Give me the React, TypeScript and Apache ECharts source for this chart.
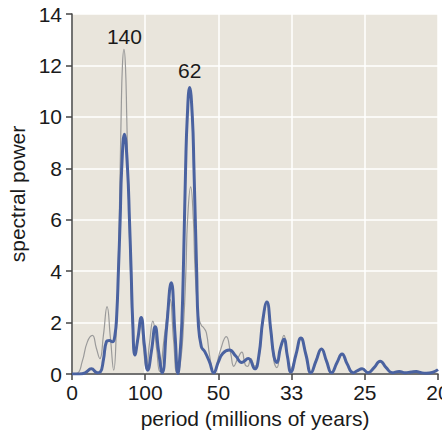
import React, { useEffect, useRef } from "react";
import * as echarts from "echarts";

// frequency in cycles per 1000 Myr (axis labels show the period 1000/f in Myr)
const blueFreq = [0, 1.0, 1.82, 2.64, 3.47, 3.88, 4.29, 4.7, 5.11, 5.52, 5.86, 6.11, 6.34, 6.58, 6.79, 7.16, 7.58, 7.85, 8.08, 8.3, 8.6, 9.01, 9.45, 9.9, 10.36, 10.86, 11.37, 11.82, 12.33, 12.92, 13.56, 14.08, 14.47, 14.79, 15.01, 15.25, 15.52, 15.75, 16.07, 16.44, 16.66, 17.03, 17.25, 17.67, 18.12, 18.81, 19.36, 19.97, 20.59, 21.48, 22.37, 23.19, 24.08, 24.97, 25.52, 26.07, 26.62, 27.16, 27.58, 27.99, 28.47, 28.95, 29.42, 29.9, 30.59, 31.27, 31.96, 32.64, 33.33, 34.08, 34.77, 35.45, 36.21, 36.89, 37.58, 38.4, 38.95, 39.63, 40.45, 41.27, 42.1, 42.92, 43.74, 44.7, 45.52, 46.34, 47.03, 47.71, 48.4, 49.22, 50];
const bluePower = [0, 0, 0.05, 0.2, 0.05, 0.08, 0.55, 1.25, 1.3, 1.25, 1.5, 2.3, 4.0, 6.0, 8.0, 9.32, 8.0, 6.0, 4.0, 2.0, 0.74, 1.4, 2.2, 1.1, 0.15, 0.9, 1.84, 0.9, 0.05, 1.8, 3.55, 1.5, 0.02, 0.9, 2.0, 4.5, 8.0, 10.0, 11.14, 10.0, 8.0, 4.0, 2.0, 1.06, 0.88, 0.45, 0.05, 0.45, 0.8, 0.93, 0.7, 0.45, 0.6, 0.2, 0.7, 2.1, 2.8, 1.7, 0.7, 0.45, 1.0, 1.35, 0.7, 0.08, 0.75, 1.4, 0.75, 0.05, 0.5, 0.97, 0.5, 0.05, 0.45, 0.78, 0.4, 0.05, 0.12, 0.2, 0.05, 0.25, 0.5, 0.25, 0.05, 0.1, 0.05, 0.08, 0.1, 0.05, 0.03, 0.06, 0.17];

const grayFreq = [0, 0.73, 1.41, 2.1, 2.78, 3.33, 3.81, 4.29, 4.79, 5.25, 5.7, 6.07, 6.34, 6.55, 6.71, 6.89, 7.1, 7.3, 7.48, 7.71, 7.99, 8.26, 8.6, 9.01, 9.42, 9.77, 10.14, 10.59, 11.04, 11.55, 11.96, 12.64, 13.37, 13.88, 14.36, 14.84, 15.25, 15.56, 15.79, 16.21, 16.58, 16.82, 17.3, 17.67, 17.99, 18.36, 18.81, 19.36, 20.25, 21.07, 21.68, 22.1, 22.64, 23.19, 23.67, 24.01, 24.42, 24.97, 25.52, 26.07, 26.62, 27.16, 27.58, 27.99, 28.47, 28.95, 29.42, 29.77, 30.59, 31.27, 31.96, 32.64, 33.33, 34.08, 34.77, 35.45, 36.21, 36.89, 37.58, 38.4, 39.08, 39.63, 40.45, 41.27, 42.1, 42.92, 43.74, 44.7, 45.52, 46.34, 47.03, 47.71, 48.4, 49.22, 50];
const grayPower = [0, 0.03, 0.5, 1.25, 1.5, 1.0, 0.6, 1.5, 2.62, 1.4, 0.15, 1.8, 4.5, 7.5, 10.0, 12.0, 12.63, 12.0, 10.0, 7.0, 4.0, 1.8, 0.7, 1.3, 1.9, 1.0, 0.2, 1.2, 2.06, 1.0, 0.1, 1.5, 2.9, 1.3, 0.02, 0.5, 2.0, 4.0, 6.0, 7.28, 6.0, 4.0, 2.2, 1.9, 1.8, 1.6, 0.7, 0.05, 0.9, 1.45, 0.8, 0.3, 0.6, 0.85, 0.35, 0.3, 0.6, 0.3, 0.6, 2.0, 2.75, 1.8, 0.5, 0.25, 1.0, 1.5, 0.7, 0.15, 0.75, 1.35, 0.8, 0.05, 0.55, 1.0, 0.5, 0.05, 0.45, 0.75, 0.4, 0.05, 0.15, 0.2, 0.05, 0.25, 0.5, 0.25, 0.05, 0.08, 0.04, 0.07, 0.1, 0.05, 0.03, 0.06, 0.17];

const peakLabels = ["140", "62"];
const peakLabelX = [7.16, 16.07];
const peakLabelY = [13.14, 11.82];

const FONT = "Liberation Sans, Arial, Helvetica, sans-serif";
const TEXT = "#1a1a1a";
const AXIS = "#444444";
const FS = 21;

export default function App() {
  const ref = useRef<HTMLDivElement>(null);
  useEffect(() => {
    if (!ref.current) return;
    const chart = echarts.init(ref.current, undefined, { renderer: "svg" });
    const blueData = blueFreq.map((f, i) => [f, bluePower[i]]);
    const grayData = grayFreq.map((f, i) => [f, grayPower[i]]);
    chart.setOption({
      animation: false,
      backgroundColor: "#ffffff",
      textStyle: { fontFamily: FONT },
      grid: {
        left: 72,
        right: 4,
        top: 14,
        bottom: 56,
        outerBoundsMode: "none",
        containLabel: false,
        show: true,
        backgroundColor: "#e9e5dc",
        borderWidth: 0,
      },
      xAxis: {
        type: "value",
        min: 0,
        max: 50,
        interval: 10,
        name: "period (millions of years)",
        nameLocation: "middle",
        nameGap: 29,
        nameTextStyle: { fontSize: FS, color: TEXT, fontFamily: FONT },
        axisLine: { show: true, onZero: false, lineStyle: { color: AXIS, width: 1.5 } },
        axisTick: { show: true, length: 6, lineStyle: { color: AXIS, width: 1.5 } },
        axisLabel: {
          fontSize: FS,
          color: TEXT,
          margin: 8,
          fontFamily: FONT,
          formatter: (v: number) => (v === 0 ? "0" : String(Math.round(1000 / v))),
        },
        splitLine: { show: true, lineStyle: { color: "#ffffff", width: 1.5 } },
      },
      yAxis: {
        type: "value",
        min: 0,
        max: 14,
        interval: 2,
        name: "spectral power",
        nameLocation: "middle",
        nameGap: 44,
        nameTextStyle: { fontSize: FS, color: TEXT, fontFamily: FONT },
        axisLine: { show: true, lineStyle: { color: AXIS, width: 1.5 } },
        axisTick: { show: true, length: 6, lineStyle: { color: AXIS, width: 1.5 } },
        axisLabel: { fontSize: FS, color: TEXT, margin: 10, fontFamily: FONT },
        splitLine: { show: true, lineStyle: { color: "#ffffff", width: 1.5 } },
      },
      series: [
        {
          type: "line",
          data: grayData,
          showSymbol: false,
          smooth: 0.5,
          lineStyle: { color: "#9a9a9a", width: 1.2 },
          z: 2,
        },
        {
          type: "line",
          data: blueData,
          showSymbol: false,
          smooth: 0.5,
          lineStyle: { color: "#4a62a0", width: 3 },
          z: 3,
          markPoint: {
            symbol: "circle",
            symbolSize: 0,
            label: {
              show: true,
              position: "inside",
              fontSize: FS,
              color: TEXT,
              fontFamily: FONT,
              formatter: (p: any) => p.name,
            },
            data: peakLabels.map((name, i) => ({
              name,
              coord: [peakLabelX[i], peakLabelY[i]],
            })),
          },
        },
      ],
    });
    return () => chart.dispose();
  }, []);
  return <div ref={ref} style={{ width: 442, height: 430, position: "absolute", left: 0, top: 0 }} />;
}
